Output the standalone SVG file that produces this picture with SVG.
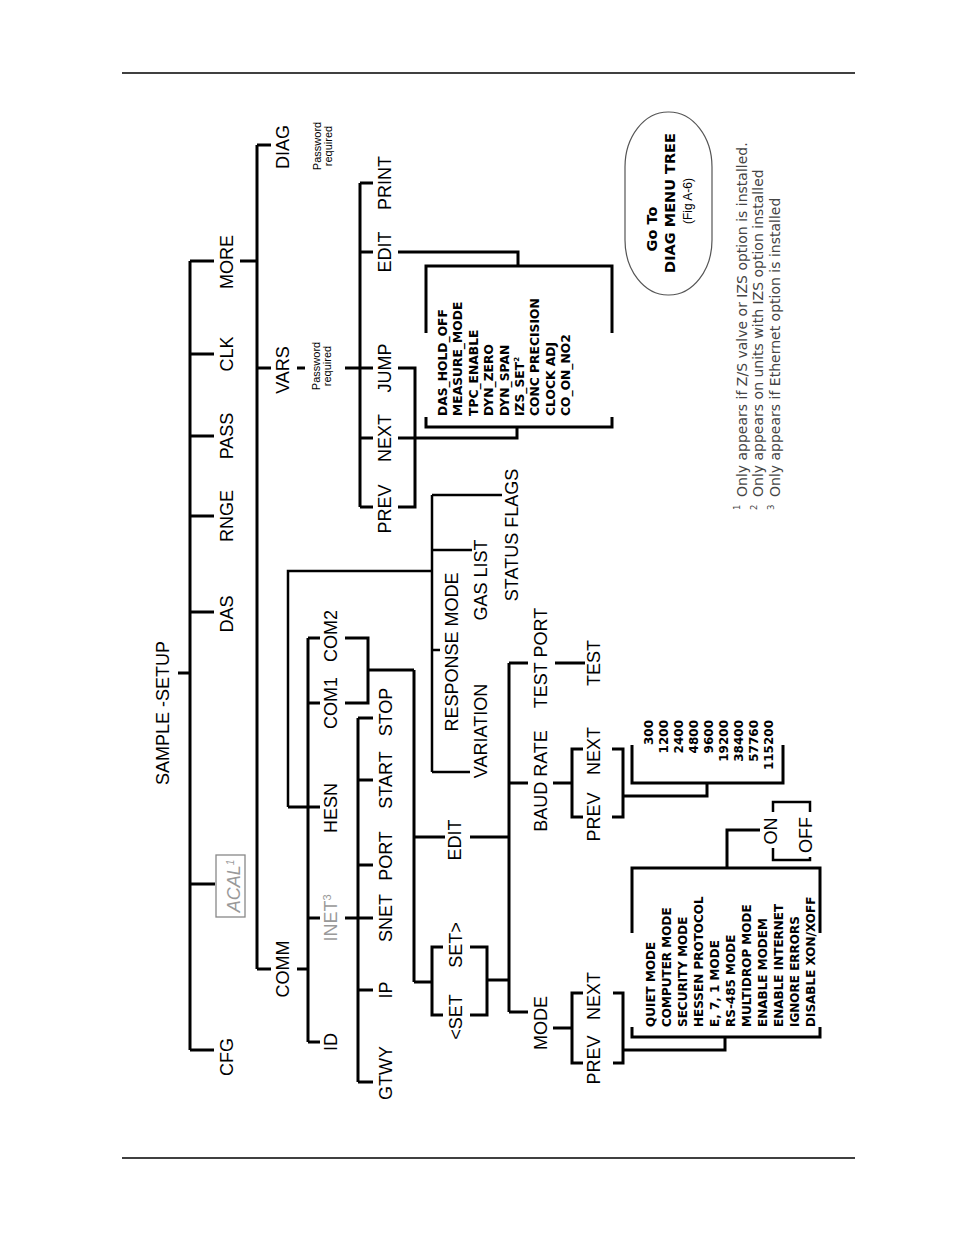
<svg xmlns="http://www.w3.org/2000/svg" width="954" height="1235" viewBox="0 0 954 1235">
<style>
.l{font-family:"Liberation Sans",Arial,sans-serif;font-size:18px;text-anchor:middle;fill:#000}
.g{fill:#999}
.pw{font-family:"Liberation Sans",Arial,sans-serif;font-size:11px;text-anchor:middle;fill:#000}
.li{font-family:"DejaVu Sans",sans-serif;font-weight:bold;font-size:12.3px;fill:#000}
.ml{font-family:"DejaVu Sans",sans-serif;font-weight:bold;font-size:12px;fill:#000}
.num{font-family:"DejaVu Sans",sans-serif;font-weight:bold;font-size:12px;fill:#000;text-anchor:end}
.fn{font-family:"DejaVu Sans",sans-serif;font-size:14px;fill:#444}
.fs{font-family:"DejaVu Sans",sans-serif;font-size:8.5px;fill:#444}
.ob{font-family:"DejaVu Sans",sans-serif;font-weight:bold;font-size:14.5px;text-anchor:middle;fill:#000}
.os{font-family:"Liberation Sans",Arial,sans-serif;font-size:12px;text-anchor:middle;fill:#000}
</style>
<rect width="954" height="1235" fill="#fff"/>
<g id="rules" stroke="#000" stroke-width="1.5">
<line x1="122" y1="73" x2="855" y2="73"/>
<line x1="122" y1="1158" x2="855" y2="1158"/>
</g>
<g id="connectors" fill="none" stroke="#000" stroke-width="3">
<path d="M178 673H190M190 261V1050M190 261H214M190 354H214M190 436H214M190 516H214M190 612H214M190 884H215M190 1050H214"/>
<path d="M240 261H257M257 145V969M257 145H271M257 368H271M257 969H271"/>
<path d="M297 368H305M345 368H373M360 183V507M360 183H373M360 252H373M360 438H373M360 507H373"/>
<path d="M398 368H415V507H398M398 438H517V427M398 252H518V266M426 333V266H612V333M426 417V427H612V417"/>
<path d="M297 969H308M308 638V1042M308 638H320M308 703H320M288 807H320M308 918H320M308 1042H320"/>
<path d="M288 807V571H432M432 495V772M432 495H502M432 550H472M432 650H440M432 772H470" stroke-width="2.5"/>
<path d="M345 638H368V703H345M368 670H414M414 670V982M414 837H445M470 837H509M414 982H432M443 947H432V1015H443M470 947H487V1015H470M487 980H509"/>
<path d="M509 663V1012M509 663H528M509 783H528M509 1012H528M555 663H585"/>
<path d="M553 783H572M583 749H572V817H583M612 749H623V817H612M623 796H707V783M632 745V783H783V745"/>
<path d="M553 1028H572M583 993H572V1063H583M613 993H623V1063H613M623 1050H725V1037M632 1027V1037H820V1027M632 933V868H820V933M727 868V830H760"/>
<path d="M773 812V802H810V812M773 848V860H810V857" stroke-width="2.5"/>
<path d="M345 918H373M358 718V1082M358 718H373M358 780H373M358 865H373M358 990H373M358 1082H373"/>
</g>
<g id="n-root"><text class="l" transform="translate(169,713) rotate(-90)">SAMPLE -SETUP</text></g>
<g id="n-cfg"><text class="l" transform="translate(233,1057) rotate(-90)">CFG</text></g>
<g id="n-acal"><rect x="216" y="855" width="29" height="62" fill="none" stroke="#888" stroke-width="1.3"/><text class="l g" font-style="italic" transform="translate(240,886) rotate(-90)">ACAL<tspan font-size="10" dy="-6">1</tspan></text></g>
<g id="n-das"><text class="l" transform="translate(233,614) rotate(-90)">DAS</text></g>
<g id="n-rnge"><text class="l" transform="translate(233,516) rotate(-90)">RNGE</text></g>
<g id="n-pass"><text class="l" transform="translate(233,436) rotate(-90)">PASS</text></g>
<g id="n-clk"><text class="l" transform="translate(233,354) rotate(-90)">CLK</text></g>
<g id="n-more"><text class="l" transform="translate(233,262) rotate(-90)">MORE</text></g>
<g id="n-diag"><text class="l" transform="translate(289,147) rotate(-90)">DIAG</text><text class="pw" transform="translate(321,146) rotate(-90)">Password</text><text class="pw" transform="translate(332,146) rotate(-90)">required</text></g>
<g id="n-vars"><text class="l" transform="translate(289,370) rotate(-90)">VARS</text><text class="pw" transform="translate(320,366) rotate(-90)">Password</text><text class="pw" transform="translate(331,366) rotate(-90)">required</text></g>
<g id="n-print"><text class="l" transform="translate(391,183) rotate(-90)">PRINT</text></g>
<g id="n-vedit"><text class="l" transform="translate(391,252) rotate(-90)">EDIT</text></g>
<g id="n-jump"><text class="l" transform="translate(391,368) rotate(-90)">JUMP</text></g>
<g id="n-vnext"><text class="l" transform="translate(391,438) rotate(-90)">NEXT</text></g>
<g id="n-vprev"><text class="l" transform="translate(391,509) rotate(-90)">PREV</text></g>
<g id="n-varslist">
<text class="li" transform="translate(447,416) rotate(-90)">DAS_HOLD_OFF</text>
<text class="li" transform="translate(462.4,416) rotate(-90)">MEASURE_MODE</text>
<text class="li" transform="translate(477.8,416) rotate(-90)">TPC_ENABLE</text>
<text class="li" transform="translate(493.2,416) rotate(-90)">DYN_ZERO</text>
<text class="li" transform="translate(508.6,416) rotate(-90)">DYN_SPAN</text>
<text class="li" transform="translate(524,416) rotate(-90)">IZS_SET<tspan font-size="7" dy="-5">2</tspan></text>
<text class="li" transform="translate(539.4,416) rotate(-90)">CONC PRECISION</text>
<text class="li" transform="translate(554.8,416) rotate(-90)">CLOCK ADJ</text>
<text class="li" transform="translate(570.2,416) rotate(-90)">CO_ON_NO2</text>
</g>
<g id="n-comm"><text class="l" transform="translate(289,969) rotate(-90)">COMM</text></g>
<g id="n-com2"><text class="l" transform="translate(337,636) rotate(-90)">COM2</text></g>
<g id="n-com1"><text class="l" transform="translate(337,703) rotate(-90)">COM1</text></g>
<g id="n-hesn"><text class="l" transform="translate(337,808) rotate(-90)">HESN</text></g>
<g id="n-inet"><text class="l g" transform="translate(337,918) rotate(-90)">INET<tspan font-size="11" dy="-6">3</tspan></text></g>
<g id="n-id"><text class="l" transform="translate(337,1042) rotate(-90)">ID</text></g>
<g id="n-stop"><text class="l" transform="translate(392,712) rotate(-90)">STOP</text></g>
<g id="n-start"><text class="l" transform="translate(392,780) rotate(-90)">START</text></g>
<g id="n-port"><text class="l" transform="translate(392,856) rotate(-90)">PORT</text></g>
<g id="n-snet"><text class="l" transform="translate(392,918) rotate(-90)">SNET</text></g>
<g id="n-ip"><text class="l" transform="translate(392,990) rotate(-90)">IP</text></g>
<g id="n-gtwy"><text class="l" transform="translate(392,1073) rotate(-90)">GTWY</text></g>
<g id="n-status"><text class="l" transform="translate(518,535) rotate(-90)">STATUS FLAGS</text></g>
<g id="n-gaslist"><text class="l" transform="translate(487,580) rotate(-90)">GAS LIST</text></g>
<g id="n-resp"><text class="l" transform="translate(458,652) rotate(-90)">RESPONSE MODE</text></g>
<g id="n-variation"><text class="l" transform="translate(487,731) rotate(-90)">VARIATION</text></g>
<g id="n-edit"><text class="l" transform="translate(461,840) rotate(-90)">EDIT</text></g>
<g id="n-set"><text class="l" transform="translate(462,1017) rotate(-90)">&lt;SET</text><text class="l" transform="translate(462,945) rotate(-90)">SET&gt;</text></g>
<g id="n-testport"><text class="l" transform="translate(547,658) rotate(-90)">TEST PORT</text></g>
<g id="n-test"><text class="l" transform="translate(600,663) rotate(-90)">TEST</text></g>
<g id="n-baud"><text class="l" transform="translate(547,781) rotate(-90)">BAUD RATE</text></g>
<g id="n-bnext"><text class="l" transform="translate(600,751) rotate(-90)">NEXT</text></g>
<g id="n-bprev"><text class="l" transform="translate(600,817) rotate(-90)">PREV</text></g>
<g id="n-baudlist">
<text class="num" transform="translate(653,720) rotate(-90)">300</text>
<text class="num" transform="translate(668,720) rotate(-90)">1200</text>
<text class="num" transform="translate(683,720) rotate(-90)">2400</text>
<text class="num" transform="translate(698,720) rotate(-90)">4800</text>
<text class="num" transform="translate(713,720) rotate(-90)">9600</text>
<text class="num" transform="translate(728,720) rotate(-90)">19200</text>
<text class="num" transform="translate(743,720) rotate(-90)">38400</text>
<text class="num" transform="translate(758,720) rotate(-90)">57760</text>
<text class="num" transform="translate(773,720) rotate(-90)">115200</text>
</g>
<g id="n-mode"><text class="l" transform="translate(547,1023) rotate(-90)">MODE</text></g>
<g id="n-mnext"><text class="l" transform="translate(600,996) rotate(-90)">NEXT</text></g>
<g id="n-mprev"><text class="l" transform="translate(600,1060) rotate(-90)">PREV</text></g>
<g id="n-modelist">
<text class="ml" transform="translate(655,1027) rotate(-90)">QUIET MODE</text>
<text class="ml" transform="translate(671,1027) rotate(-90)">COMPUTER MODE</text>
<text class="ml" transform="translate(687,1027) rotate(-90)">SECURITY MODE</text>
<text class="ml" transform="translate(703,1027) rotate(-90)">HESSEN PROTOCOL</text>
<text class="ml" transform="translate(719,1027) rotate(-90)">E, 7, 1 MODE</text>
<text class="ml" transform="translate(735,1027) rotate(-90)">RS-485 MODE</text>
<text class="ml" transform="translate(751,1027) rotate(-90)">MULTIDROP MODE</text>
<text class="ml" transform="translate(767,1027) rotate(-90)">ENABLE MODEM</text>
<text class="ml" transform="translate(783,1027) rotate(-90)">ENABLE INTERNET</text>
<text class="ml" transform="translate(799,1027) rotate(-90)">IGNORE ERRORS</text>
<text class="ml" transform="translate(815,1027) rotate(-90)">DISABLE XON/XOFF</text>
</g>
<g id="n-on"><text class="l" transform="translate(777,831) rotate(-90)">ON</text></g>
<g id="n-off"><text class="l" transform="translate(812,835) rotate(-90)">OFF</text></g>
<g id="n-goto">
<rect x="625" y="112" width="87" height="183" rx="43" ry="55" fill="#fff" stroke="#555" stroke-width="1.2"/>
<text class="ob" transform="translate(657,229) rotate(-90)">Go To</text>
<text class="ob" transform="translate(675,203) rotate(-90)">DIAG MENU TREE</text>
<text class="os" transform="translate(692,201) rotate(-90)">(Fig A-6)</text>
</g>
<g id="footnotes">
<text class="fs" transform="translate(740,510) rotate(-90)">1</text>
<text class="fn" transform="translate(747,497) rotate(-90)">Only appears if Z/S valve or IZS option is installed.</text>
<text class="fs" transform="translate(757,510) rotate(-90)">2</text>
<text class="fn" transform="translate(763,497) rotate(-90)">Only appears on units with IZS option  installed</text>
<text class="fs" transform="translate(774,510) rotate(-90)">3</text>
<text class="fn" transform="translate(780,497) rotate(-90)">Only appears if Ethernet option is installed</text>
</g>
</svg>
